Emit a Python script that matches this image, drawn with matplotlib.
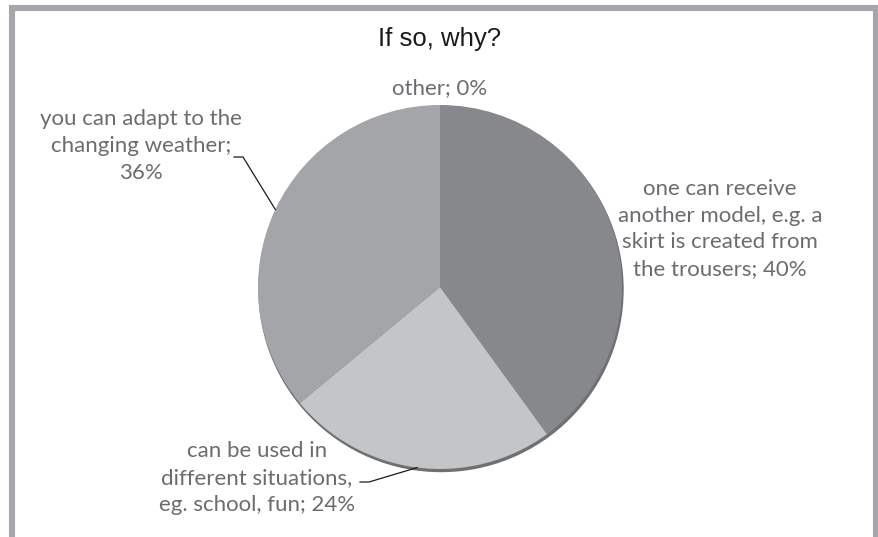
import matplotlib.pyplot as plt  # Grafik çizimi için matplotlib
import numpy as np  # Açı hesapları için numpy
from matplotlib.patches import Rectangle, Circle

# Veri: kategoriler ve yüzdeler (saat yönünde, tepeden başlayarak)
kategoriler = [
    "one can receive\nanother model, e.g. a\nskirt is created from\nthe trousers",
    "can be used in\ndifferent situations,\neg. school, fun",
    "you can adapt to the\nchanging weather",
    "other",
]
yuzdeler = [40, 24, 36, 0]
ayiraclar = [" ", " ", "\n", " "]
baslik = "If so, why?"

renkler = ["#87888c", "#c4c5c7", "#a4a5a8", "#b0b1b4"]

W, H = 879, 537
fig = plt.figure(figsize=(W / 100, H / 100), dpi=100)
ax = fig.add_axes([0, 0, 1, 1])

# Piksel koordinatları (y yukarı doğru)
def py(y):
    return H - y

merkez = (440, py(287))
yaricap = 182

# Gölge için biraz kaydırılmış koyu daire
ax.add_patch(Circle((merkez[0] + 1, merkez[1] - 2.5), yaricap, color="#6f7073", zorder=1))

wedges, _ = ax.pie(yuzdeler, colors=renkler, startangle=90, counterclock=False,
                   center=merkez, radius=yaricap, frame=False,
                   wedgeprops=dict(linewidth=0, zorder=2))

ax.set_xlim(0, W)
ax.set_ylim(0, H)
ax.set_aspect("equal")
ax.axis("off")

# Çerçeve (alt kenar görüntünün dışında kalıyor)
ax.add_patch(Rectangle((12, -20), 864, py(8) + 20, fill=False,
                       edgecolor="#a6a7aa", linewidth=4.4, zorder=5))

ax.text(440, py(39), baslik, ha="center", va="center", fontsize=18.5,
        family="Liberation Sans", color="#1a1a1a")

# Etiket konumları (piksel)
etiket_yerleri = [(720, 229), (257, 478), (141, 146), (440, 88)]
lider_baslangic = [None, (360, 482), (234, 157), None]

for i, w in enumerate(wedges):
    metin = f"{kategoriler[i]};{ayiraclar[i]}{yuzdeler[i]}%"
    x, y = etiket_yerleri[i]
    ax.text(x, py(y), metin, ha="center", va="center", multialignment="center",
            fontsize=16, family="Lato", color="#6b6c70", linespacing=1.42)
    if lider_baslangic[i] is not None:
        aci = np.deg2rad((w.theta1 + w.theta2) / 2)
        ux = merkez[0] + yaricap * np.cos(aci)
        uy = merkez[1] + yaricap * np.sin(aci)
        lx, ly = lider_baslangic[i]
        ax.plot([lx, lx + 9, ux], [py(ly), py(ly), uy], color="#1a1a1a",
                linewidth=0.9, zorder=4)

plt.savefig("out.png", dpi=100)
